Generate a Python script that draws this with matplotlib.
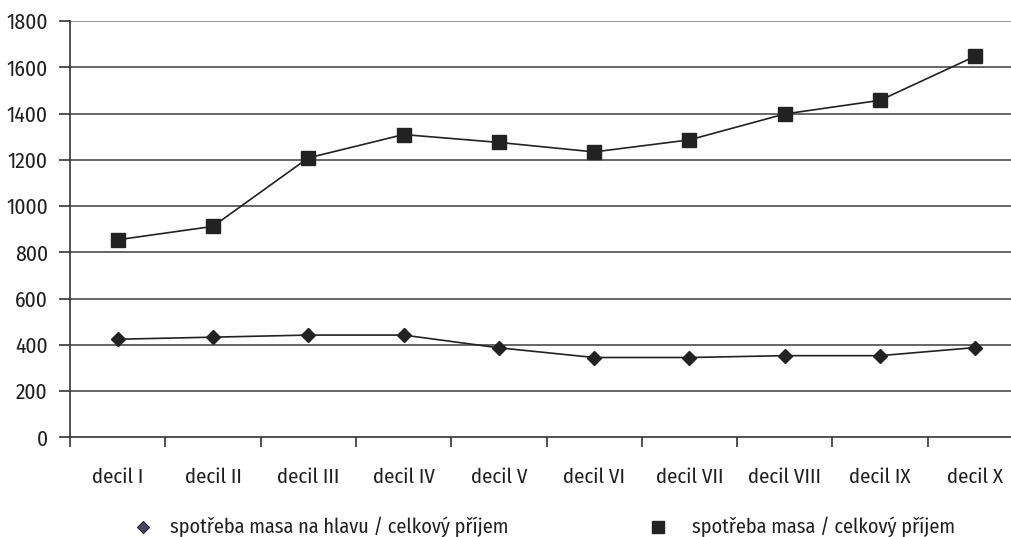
import numpy as np
import matplotlib
matplotlib.use("Agg")
import matplotlib.pyplot as plt
from matplotlib import font_manager as fm

# pick a condensed sans that is installed, close to the original typeface
installed = {f.name for f in fm.fontManager.ttflist}
for fam in ['Fira Sans Condensed', 'Roboto Condensed', 'PT Sans Narrow',
            'Archivo Narrow', 'Open Sans Condensed', 'Asap Condensed',
            'IBM Plex Sans Condensed', 'Encode Sans Condensed',
            'Liberation Sans Narrow']:
    if fam in installed:
        break
else:
    fam = 'DejaVu Sans'
plt.rcParams['font.family'] = [fam, 'DejaVu Sans']

# data
categories = ["decil I", "decil II", "decil III", "decil IV", "decil V",
              "decil VI", "decil VII", "decil VIII", "decil IX", "decil X"]
per_head = [424, 433, 442, 442, 387, 345, 345, 353, 353, 388]
total = [854, 912, 1208, 1309, 1275, 1234, 1286, 1398, 1457, 1648]
label_per_head = "spotřeba masa na hlavu / celkový příjem"
label_total = "spotřeba masa / celkový příjem"
y_ticks = list(range(0, 1801, 200))

fig = plt.figure(figsize=(10.11, 5.37), dpi=100)
ax = fig.add_axes([70 / 1011, 1 - 437.3 / 537, 953 / 1011, 416.3 / 537])

x = np.arange(len(categories))
ax.plot(x, per_head, color='#222222', lw=1.2, marker='D', ms=7.2,
        mfc='#222222', mec='#222222', zorder=3)
ax.plot(x, total, color='#222222', lw=1.2, marker='s', ms=9.5,
        mfc='#222222', mec='#222222', zorder=3)

ax.set_xlim(-0.5, len(categories) - 0.5)
ax.set_ylim(0, 1800)
ax.set_yticks(y_ticks)
ax.set_yticklabels([str(v) for v in y_ticks])
ax.set_xticks(x)
ax.set_xticklabels(categories)
ax.set_xticks(np.arange(-0.5, len(categories), 1.0), minor=True)

# horizontal gridlines
for v in y_ticks[1:]:
    ax.axhline(v, color='#888888' if v == 1800 else '#4d4d4d', lw=1.2, zorder=1)

for s in ['top', 'right']:
    ax.spines[s].set_visible(False)
ax.spines['left'].set_color('#333333')
ax.spines['bottom'].set_color('#333333')
ax.spines['left'].set_linewidth(1.2)
ax.spines['bottom'].set_linewidth(1.2)

ax.tick_params(axis='x', which='major', length=0, pad=22, labelsize=15,
               labelcolor='#231f20')
ax.tick_params(axis='x', which='minor', length=7, width=1.2, color='#333333')
ax.tick_params(axis='y', length=8, width=1.2, color='#333333', pad=8,
               labelsize=15.5, labelcolor='#231f20')

# legend below the plot
fig.text(170 / 1011, 1 - 527 / 537, label_per_head, fontsize=14.6,
         color='#231f20', va='center')
fig.text(692 / 1011, 1 - 527 / 537, label_total, fontsize=14.6,
         color='#231f20', va='center')
fig.lines.append(plt.Line2D([143 / 1011], [1 - 527 / 537], marker='D', ms=6,
                            mfc='#4a4868', mec='#222222', mew=0.8,
                            transform=fig.transFigure, figure=fig))
fig.lines.append(plt.Line2D([658 / 1011], [1 - 527 / 537], marker='s', ms=9,
                            mfc='#222222', mec='#222222',
                            transform=fig.transFigure, figure=fig))

fig.savefig("out.png", dpi=100)
